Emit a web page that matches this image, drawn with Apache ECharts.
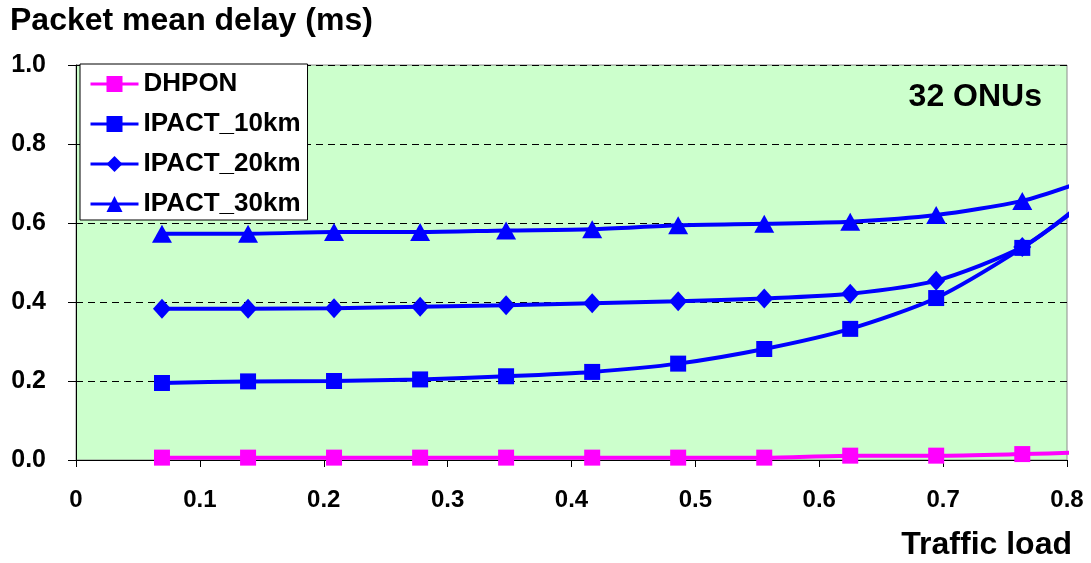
<!DOCTYPE html>
<html>
<head>
<meta charset="utf-8">
<script src="https://cdn.jsdelivr.net/npm/echarts@6/dist/echarts.min.js"></script>
<style>html,body{margin:0;padding:0;background:#fff;}#c{width:1091px;height:563px;}</style>
</head>
<body>
<div id="c"></div>
<script>
// Traffic load (x); last point is the line end beyond the last marker
var loads = [0.0694, 0.1389, 0.2083, 0.2778, 0.3472, 0.4167, 0.4861, 0.5556, 0.625, 0.6944, 0.7639, 0.810];
var dhpon    = [0.006, 0.006, 0.006, 0.006, 0.006, 0.006, 0.006, 0.006, 0.011, 0.011, 0.015, 0.019];
var ipact10  = [0.195, 0.199, 0.200, 0.204, 0.212, 0.223, 0.244, 0.281, 0.332, 0.410, 0.537, 0.640];
var ipact20  = [0.383, 0.383, 0.384, 0.388, 0.392, 0.397, 0.402, 0.409, 0.421, 0.454, 0.539, 0.644];
var ipact30  = [0.573, 0.573, 0.577, 0.577, 0.581, 0.584, 0.594, 0.598, 0.603, 0.620, 0.656, 0.702];
var xTicks = ['0', '0.1', '0.2', '0.3', '0.4', '0.5', '0.6', '0.7', '0.8'];
var yTicks = ['0.0', '0.2', '0.4', '0.6', '0.8', '1.0'];

var FONT = '"Liberation Sans", Arial, sans-serif';

function build(vals) {
  return loads.map(function (x, i) {
    var d = { value: [x, vals[i]] };
    if (i === loads.length - 1) d.symbol = 'none';
    return d;
  });
}

function mkSeries(name, vals, color, symbol, size) {
  return {
    name: name, type: 'line', data: build(vals), smooth: 0.25,
    clip: false, symbol: symbol, symbolSize: size,
    lineStyle: { color: color, width: 4 },
    itemStyle: { color: color },
    animation: false
  };
}

var chart = echarts.init(document.getElementById('c'), null, { renderer: 'canvas' });
chart.setOption({
  animation: false,
  grid: { left: 76, right: 24, top: 65, bottom: 103, show: true,
          backgroundColor: '#CCFFCC', borderColor: '#8c8c8c', borderWidth: 1 },
  xAxis: {
    type: 'value', min: 0, max: 0.8, interval: 0.1,
    axisLine: { show: true, onZero: false, lineStyle: { color: '#000', width: 1 } },
    axisTick: { show: true, inside: false, length: 7, lineStyle: { color: '#000' } },
    splitLine: { show: false },
    axisLabel: { margin: 28, color: '#000', fontSize: 24, fontWeight: 'bold', fontFamily: FONT,
      formatter: function (v) { return xTicks[Math.round(v * 10)]; } }
  },
  yAxis: {
    type: 'value', min: 0, max: 1, interval: 0.2,
    axisLine: { show: true, lineStyle: { color: '#000', width: 1 } },
    axisTick: { show: true, inside: false, length: 8, lineStyle: { color: '#000' } },
    splitLine: { show: true, lineStyle: { color: '#000', width: 1, type: [7, 5] } },
    axisLabel: { margin: 30, color: '#000', fontSize: 25, fontWeight: 'bold', fontFamily: FONT,
      formatter: function (v) { return yTicks[Math.round(v * 5)]; } }
  },
  legend: {
    left: 80, top: 64, orient: 'vertical', itemWidth: 48, itemHeight: 20, itemGap: 14,
    padding: [7, 7, 3, 9], backgroundColor: '#fff', borderColor: '#000', borderWidth: 1,
    borderRadius: 0,
    lineStyle: { width: 3 },
    textStyle: { color: '#000', fontSize: 26, lineHeight: 26, fontWeight: 'bold', fontFamily: FONT },
    data: ['DHPON', 'IPACT_10km', 'IPACT_20km', 'IPACT_30km']
  },
  graphic: [
    { type: 'text', left: 10, top: 5, style: { text: 'Packet mean delay (ms)', fill: '#000',
      font: 'bold 32px ' + FONT } },
    { type: 'text', right: 49, top: 81, style: { text: '32 ONUs', fill: '#000',
      font: 'bold 32px ' + FONT } },
    { type: 'text', right: 19, top: 529, style: { text: 'Traffic load', fill: '#000',
      font: 'bold 32px ' + FONT } }
  ],
  series: [
    mkSeries('DHPON', dhpon, '#FF00FF', 'rect', 16),
    mkSeries('IPACT_10km', ipact10, '#0000FF', 'rect', 16),
    mkSeries('IPACT_20km', ipact20, '#0000FF', 'diamond', [18, 20]),
    mkSeries('IPACT_30km', ipact30, '#0000FF', 'triangle', [20, 18])
  ]
});
</script>
</body>
</html>
